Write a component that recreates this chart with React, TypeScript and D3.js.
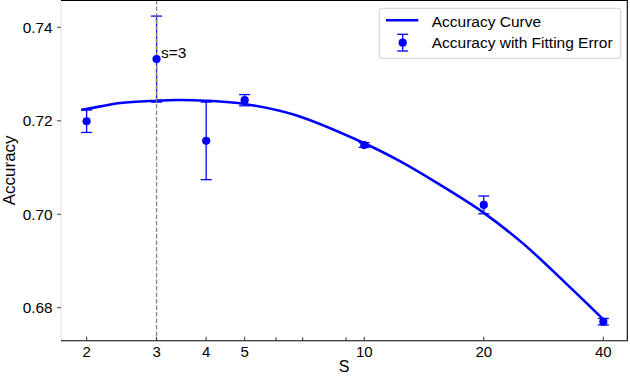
import React from "react";
import * as d3 from "d3";

// ---- data ----
const S_VALUES = [2, 3, 4, 5, 10, 20, 40];
const ACCURACY = [0.7199, 0.7332, 0.7157, 0.7244, 0.7148, 0.702, 0.677];
const FIT_ERROR = [0.0024, 0.0092, 0.0083, 0.0012, 0.0005, 0.0019, 0.0007];

const CURVE_S = [1.94, 2, 2.43, 3, 3.38, 4, 5, 6.7, 10, 12.3, 15.5, 20, 25.3, 32.3, 40];
const CURVE_ACC = [
  0.72237, 0.72252, 0.72381, 0.7243, 0.72445, 0.7243, 0.72359, 0.72123, 0.7152, 0.71136,
  0.70633, 0.7003, 0.6935, 0.6851, 0.6775,
];

const X_TICKS = [2, 3, 4, 5, 10, 20, 40];
const X_MINOR_TICKS = [6, 7, 9];
const Y_TICKS = [0.68, 0.7, 0.72, 0.74];
const Y_TICK_LABELS = ["0.68", "0.70", "0.72", "0.74"];
const MARK_S = 3;
const MARK_LABEL = "s=3";
const LEGEND_LABELS = ["Accuracy Curve", "Accuracy with Fitting Error"];

const W = 630;
const H = 376;
const L = 61;
const R = 627.3;
const T = 0;
const B = 340.7;
const FONT = "'Liberation Sans', Arial, Helvetica, sans-serif";
const BLUE = "#0000ff";

export default function App() {
  const x = d3.scaleLog().domain([1.724, 45.96]).range([L, R]);
  const y = d3.scaleLinear().domain([0.67294, 0.745842]).range([B, T]);

  const curvePts: [number, number][] = CURVE_S.map((s, i) => [x(s), y(CURVE_ACC[i])]);
  const line = d3.line().curve(d3.curveCatmullRom.alpha(0.5))(curvePts) || "";
  const cap = 5.5;

  return (
    <svg
      width={W}
      height={H}
      style={{ position: "absolute", left: 0, top: 0, background: "#fff" }}
      fontFamily={FONT}
    >
      <rect x={0} y={0} width={W} height={H} fill="#fff" />
      {/* curve */}
      <path d={line} fill="none" stroke={BLUE} strokeWidth={2.6} />
      {/* error bars */}
      {S_VALUES.map((s, i) => {
        const cx = x(s);
        const y1 = y(ACCURACY[i] - FIT_ERROR[i]);
        const y2 = y(ACCURACY[i] + FIT_ERROR[i]);
        return (
          <g key={"e" + i} stroke={BLUE} strokeWidth={1.3}>
            <line x1={cx} x2={cx} y1={y1} y2={y2} />
            <line x1={cx - cap} x2={cx + cap} y1={y1} y2={y1} />
            <line x1={cx - cap} x2={cx + cap} y1={y2} y2={y2} />
          </g>
        );
      })}
      {/* vertical dashed marker */}
      <line
        x1={x(MARK_S)}
        x2={x(MARK_S)}
        y1={T}
        y2={B}
        stroke="#808080"
        strokeWidth={1.2}
        strokeDasharray="4.5,2"
      />
      {/* points */}
      {S_VALUES.map((s, i) => (
        <circle key={"p" + i} cx={x(s)} cy={y(ACCURACY[i])} r={4.1} fill={BLUE} />
      ))}
      <text x={x(MARK_S) + 4.5} y={58.3} fontSize={15.5} fill="#000">
        {MARK_LABEL}
      </text>

      {/* spines */}
      <line x1={L} x2={L} y1={T} y2={B} stroke="#e6e6e6" strokeWidth={1.2} />
      <line x1={L} x2={R} y1={T + 0.5} y2={T + 0.5} stroke="#000" strokeWidth={1.1} />
      <line x1={R} x2={R} y1={T} y2={B} stroke="#000" strokeWidth={1.1} />
      <line x1={L} x2={R + 0.5} y1={B} y2={B} stroke="#000" strokeWidth={1.1} />

      {/* x ticks */}
      {X_TICKS.map((t) => (
        <g key={"xt" + t}>
          <line x1={x(t)} x2={x(t)} y1={B} y2={B - 4} stroke="#333" strokeWidth={1} />
          <text x={x(t)} y={356.7} fontSize={15} textAnchor="middle" fill="#000">
            {t}
          </text>
        </g>
      ))}
      {X_MINOR_TICKS.map((t) => (
        <line key={"xm" + t} x1={x(t)} x2={x(t)} y1={B} y2={B - 3.3} stroke="#222" strokeWidth={1} />
      ))}
      {/* y ticks */}
      {Y_TICKS.map((t, i) => (
        <g key={"yt" + t}>
          <line x1={L - 4} x2={L} y1={y(t)} y2={y(t)} stroke="#444" strokeWidth={1} />
          <text x={52.7} y={y(t) + 5.6} fontSize={15.4} textAnchor="end" fill="#000">
            {Y_TICK_LABELS[i]}
          </text>
        </g>
      ))}

      {/* axis labels */}
      <text
        transform={`translate(15, ${(T + B) / 2}) rotate(-90)`}
        fontSize={17}
        textAnchor="middle"
        fill="#000"
      >
        Accuracy
      </text>
      <text x={(L + R) / 2} y={372} fontSize={16} textAnchor="middle" fill="#000">
        S
      </text>

      {/* legend */}
      <rect
        x={379.3}
        y={8.3}
        width={241.4}
        height={50}
        rx={3}
        fill="#fff"
        fillOpacity={0.85}
        stroke="#cccccc"
        strokeWidth={1}
      />
      <line x1={386} x2={418.3} y1={20.3} y2={20.3} stroke={BLUE} strokeWidth={2.6} />
      <text x={431.7} y={26.5} fontSize={15.5} fill="#000">
        {LEGEND_LABELS[0]}
      </text>
      <g stroke={BLUE} strokeWidth={1.3}>
        <line x1={402.7} x2={402.7} y1={34.3} y2={51} />
        <line x1={402.7 - cap} x2={402.7 + cap} y1={34.3} y2={34.3} />
        <line x1={402.7 - cap} x2={402.7 + cap} y1={51} y2={51} />
      </g>
      <circle cx={402.7} cy={42.7} r={4.1} fill={BLUE} />
      <text x={431.7} y={48.3} fontSize={15.5} fill="#000">
        {LEGEND_LABELS[1]}
      </text>
    </svg>
  );
}
